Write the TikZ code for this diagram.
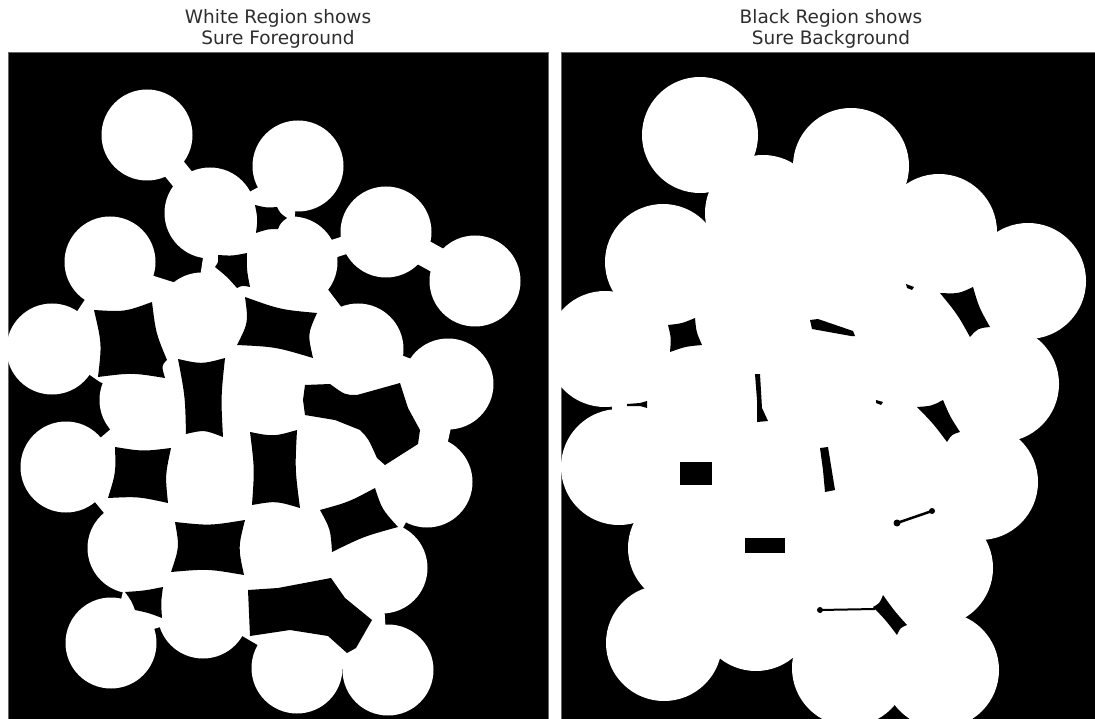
\documentclass[tikz,border=0pt]{standalone}
\usepackage{fontspec}
\setmainfont{DejaVu Sans}
\usetikzlibrary{calc}
% coin centres (pixel coordinates of the left panel)
\newcommand{\coinset}{%
  \coordinate (A) at (147,135); \coordinate (B) at (210,213); \coordinate (C) at (298,166);
  \coordinate (D) at (386,232); \coordinate (E) at (475,281); \coordinate (F) at (110,262);
  \coordinate (G) at (52,349);  \coordinate (J) at (292,262); \coordinate (K) at (202,318);
  \coordinate (M) at (145,400); \coordinate (N) at (66,467);  \coordinate (O) at (213,474);
  \coordinate (P) at (263,395); \coordinate (Q) at (358,349); \coordinate (R) at (448,384);
  \coordinate (S) at (334,460); \coordinate (T) at (427,482); \coordinate (U) at (382,568);
  \coordinate (V) at (388,670); \coordinate (W) at (297,668); \coordinate (X) at (133,548);
  \coordinate (Y) at (111,643); \coordinate (Z) at (203,613); \coordinate (AA) at (275,545);
  \coordinate (Kp) at (198,290); \coordinate (Mg) at (100,382);}
\newcommand{\coinnames}{A,B,C,D,E,F,G,J,K,M,N,O,P,Q,R,S,T,U,V,W,X,Y,Z,AA}
% black cavity with four concave sides: #1 = depth, #2..#5 = corners
\newcommand{\cavfour}[5]{%
  \coordinate (hc) at ($0.25*#2+0.25*#3+0.25*#4+0.25*#5$);
  \fill[hole] #2 .. controls ($#2!0.5!#3!#1!(hc)$) .. #3
    .. controls ($#3!0.5!#4!#1!(hc)$) .. #4
    .. controls ($#4!0.5!#5!#1!(hc)$) .. #5
    .. controls ($#5!0.5!#2!#1!(hc)$) .. #2 -- cycle;}
\newcommand{\cavfive}[6]{%
  \coordinate (hc) at ($0.2*#2+0.2*#3+0.2*#4+0.2*#5+0.2*#6$);
  \fill[hole] #2 .. controls ($#2!0.5!#3!#1!(hc)$) .. #3
    .. controls ($#3!0.5!#4!#1!(hc)$) .. #4
    .. controls ($#4!0.5!#5!#1!(hc)$) .. #5
    .. controls ($#5!0.5!#6!#1!(hc)$) .. #6
    .. controls ($#6!0.5!#2!#1!(hc)$) .. #2 -- cycle;}
\begin{document}
\begin{tikzpicture}[x=1pt,y=-1pt,
  panel/.style={fill=black,draw=black!60,line width=0.6pt},
  coin/.style={fill=white},
  bridge/.style={draw=white},
  hole/.style={fill=black},
  title/.style={font=\fontsize{18.5}{21.5}\selectfont,align=center,text=black!82}]
\useasboundingbox (0,0) rectangle (1095,719);
\fill[white] (0,0) rectangle (1095,719);
% ---------------- left panel: sure foreground ----------------
\path[panel] (8,52) rectangle (548,719);
\begin{scope}
  \clip (8,52) rectangle (548,719);
  \coinset
  \fill[coin] (G) -- (F) -- (Kp) -- (B) -- (C) -- (J) -- (Q) -- (R) -- (T) -- (U) -- (V)
     -- (W) -- (Z) -- (Y) -- (X) -- (N) -- (M) -- (Mg) -- cycle;
  \foreach \c in \coinnames {\fill[coin] (\c) circle[radius=45.5pt];}
  \draw[bridge,line width=24pt] (A) -- (B);
  \draw[bridge,line width=18pt] (J) -- (D);
  \draw[bridge,line width=26pt] (D) -- (E);
  \draw[bridge,line width=24pt] (J) -- (Q);
  \draw[bridge,line width=20pt] (Q) -- (R);
  \draw[bridge,line width=24pt] (R) -- (T);
  % cavities
  \cavfive{0.15}{(255,205)}{(277,207)}{(287,218)}{(278,229)}{(256,233)}
  \cavfive{0.12}{(218,255)}{(247,253)}{(250,287)}{(237,288)}{(215,267)}
  \cavfive{0.15}{(94,310)}{(152,302)}{(167,360)}{(165,378)}{(98,377)}
  \cavfour{0.2}{(245,297)}{(317,313)}{(313,358)}{(237,345)}
  \cavfour{0.15}{(115,447)}{(171,448)}{(168,503)}{(108,498)}
  \cavfour{0.15}{(178,359)}{(225,358)}{(223,437)}{(186,434)}
  \fill[hole] (305,385) -- (330,384) .. controls (345,395) .. (357,395) -- (375,390) -- (400,383)
     -- (408,408) -- (420,430) -- (418,444) -- (385,465) -- (377,458)
     .. controls (368,438) .. (360,430) -- (335,420) -- (305,415) -- (303,400) -- cycle;
  \cavfour{0.15}{(320,510)}{(375,488)}{(398,527)}{(332,552)}
  \fill[hole] (248,590) -- (278,588) -- (331,578) -- (345,598) -- (372,620) -- (356,648)
     -- (347,653) -- (328,636) -- (290,630) -- (250,636) -- cycle;
  \cavfour{0.15}{(250,432)}{(297,430)}{(300,508)}{(252,505)}
  \cavfour{0.18}{(175,522)}{(245,520)}{(244,575)}{(171,572)}
  \cavfour{0.1}{(125,592)}{(163,587)}{(162,618)}{(135,610)}
\end{scope}
% ---------------- right panel: sure background ----------------
\path[panel] (561,52) rectangle (1096,720);
\begin{scope}
  \clip (561,52) rectangle (1095,719);
  \begin{scope}[xshift=553pt]
    \coinset
    \fill[coin] (G) -- (F) -- (B) -- (C) -- (D) -- (E) -- (R) -- (T) -- (U) -- (V)
       -- (W) -- (Z) -- (Y) -- (X) -- (N) -- cycle;
    \foreach \c in \coinnames {\fill[coin] (\c) circle[radius=58pt];}
  \end{scope}
  % cavities
  \cavfour{0.15}{(668,325)}{(695,318)}{(702,345)}{(670,352)}
  \fill[hole] (810,320) -- (818,319) -- (853,331) -- (855,336) -- (851,336) -- (812,329) -- cycle;
  \fill[hole] (906,284) -- (914,287) -- (912,290) -- (907,288) -- cycle;
  \cavfour{0.18}{(940,293)}{(973,287)}{(990,327)}{(970,337)}
  \fill[hole] (627,404) -- (640,403) -- (647,401) -- (647,408) -- (640,406) -- (627,406) -- cycle;
  \fill[hole] (755,374) -- (760,374) -- (762,408) -- (768,421) -- (757,422) -- (757,400) -- cycle;
  \fill[hole] (876,400) -- (883,402) -- (881,405) -- (876,403) -- cycle;
  \cavfour{0.15}{(917,407)}{(943,400)}{(960,432)}{(947,442)}
  \fill[hole] (680,462) rectangle (712,485);
  \fill[hole] (820,448) -- (828,447) -- (835,490) -- (825,492) -- (823,470) -- cycle;
  \draw[line width=2.5pt] (897,523) -- (932,511);
  \fill[hole] (897,523) circle[radius=3.5pt] (932,511) circle[radius=3pt];
  \fill[hole] (745,538) rectangle (785,553);
  \draw[line width=2pt] (820,610) -- (875,609);
  \fill[hole] (820,610) circle[radius=3pt];
  \cavfour{0.15}{(873,607)}{(883,595)}{(907,625)}{(897,635)}
\end{scope}
% ---------------- titles ----------------
\node[title] (tL) at (278,29) {White Region shows\\ Sure Foreground};
\node[title] (tR) at (831,29) {Black Region shows\\ Sure Background};
\end{tikzpicture}
\end{document}
